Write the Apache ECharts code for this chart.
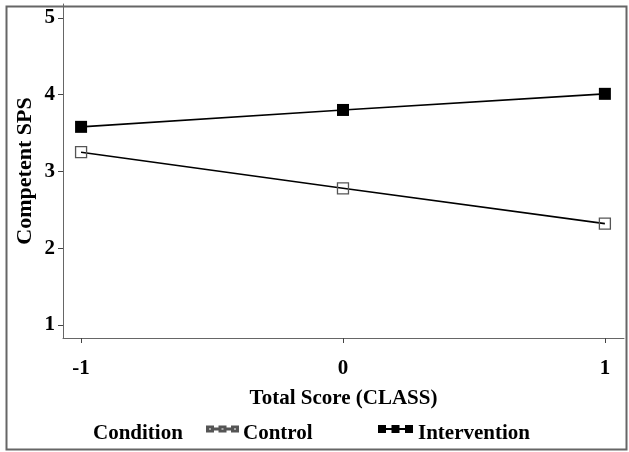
<!DOCTYPE html>
<html>
<head>
<meta charset="utf-8">
<script src="https://cdn.jsdelivr.net/npm/echarts@6/dist/echarts.min.js"></script>
<style>html,body{margin:0;padding:0;background:#fff;}#c{width:629px;height:452px;}</style>
</head>
<body>
<div id="c"></div>
<script>
const xValues = [-1, 0, 1];
const controlValues = [3.25, 2.78, 2.32];
const interventionValues = [3.58, 3.80, 4.01];
const yTicks = [1, 2, 3, 4, 5];
const xTicks = [-1, 0, 1];
const seriesNames = ['Control', 'Intervention'];
const legendTitle = 'Condition';
const xTitle = 'Total Score (CLASS)';
const yTitle = 'Competent SPS';

const FONT = '"Liberation Serif", "Times New Roman", serif';
const chart = echarts.init(document.getElementById('c'), null, {renderer: 'canvas'});

// icon paths carry an empty extension below so the squares sit slightly above the text centre
const controlIcon = 'path://M0,0H6V5H0Z M1,1V4H5V1Z M6,2H12.5V3H6Z M12.5,0H18.5V5H12.5Z M13.5,1V4H17.5V1Z M18.5,2H25V3H18.5Z M25,0H31V5H25Z M26,1V4H30V1Z M0,14L0,14Z';
const interventionIcon = 'path://M0,0H8V8H0Z M8,3H13.5V5H8Z M13.5,0H21.5V8H13.5Z M21.5,3H27V5H21.5Z M27,0H35V8H27Z M0,17L0,17Z';

const legendText = {fontFamily: FONT, fontWeight: 'bold', fontSize: 21, color: '#000'};

chart.setOption({
  backgroundColor: '#fff',
  animation: false,
  grid: {left: 63, right: 5, top: 4, bottom: 114, containLabel: false},
  graphic: [{
    type: 'rect', left: 4, top: 4, z: 100, silent: true,
    shape: {width: 620, height: 443},
    style: {fill: 'none', stroke: '#666', lineWidth: 2}
  }],
  title: {
    text: legendTitle, left: 93, top: 423,
    textStyle: {fontFamily: FONT, fontWeight: 'bold', fontSize: 21, color: '#000'},
    padding: 0
  },
  legend: [{
    data: [{name: seriesNames[0], icon: controlIcon}],
    left: 206, top: 423, padding: 0, itemGap: 0,
    itemWidth: 31, itemHeight: 14,
    textStyle: legendText, selectedMode: false
  }, {
    data: [{name: seriesNames[1], icon: interventionIcon}],
    left: 378, top: 423, padding: 0, itemGap: 0,
    itemWidth: 35, itemHeight: 17,
    textStyle: legendText, selectedMode: false
  }],
  xAxis: {
    type: 'value', min: -1.069, max: 1.073,
    name: xTitle, nameLocation: 'middle', nameGap: 50, nameMoveOverlap: false,
    nameTextStyle: {fontFamily: FONT, fontWeight: 'bold', fontSize: 21, color: '#000'},
    axisLine: {show: true, onZero: false, lineStyle: {color: '#666', width: 1}},
    axisTick: {show: true, length: 5, lineStyle: {color: '#444'}, customValues: xTicks},
    axisLabel: {customValues: xTicks, margin: 20, fontFamily: FONT, fontWeight: 'bold', fontSize: 21, color: '#000'},
    splitLine: {show: false}
  },
  yAxis: {
    type: 'value', min: 0.83, max: 5.18,
    name: yTitle, nameLocation: 'middle', nameGap: 27, nameMoveOverlap: false,
    nameTextStyle: {fontFamily: FONT, fontWeight: 'bold', fontSize: 22, color: '#000'},
    axisLine: {show: true, onZero: false, lineStyle: {color: '#666', width: 1}},
    axisTick: {show: true, length: 5, lineStyle: {color: '#444'}, customValues: yTicks},
    axisLabel: {customValues: yTicks, margin: 8, padding: [4, 0, 0, 0], fontFamily: FONT, fontWeight: 'bold', fontSize: 21, color: '#000'},
    splitLine: {show: false}
  },
  series: [{
    name: seriesNames[0], type: 'line',
    data: xValues.map((x, i) => [x, controlValues[i]]),
    symbol: 'rect', symbolSize: 11,
    lineStyle: {color: '#000', width: 1.6},
    itemStyle: {color: 'rgba(255,255,255,0)', borderColor: '#555', borderWidth: 1.3}
  }, {
    name: seriesNames[1], type: 'line',
    data: xValues.map((x, i) => [x, interventionValues[i]]),
    symbol: 'rect', symbolSize: 12,
    lineStyle: {color: '#000', width: 1.6},
    itemStyle: {color: '#000', borderColor: '#000', borderWidth: 0}
  }]
});
</script>
</body>
</html>
